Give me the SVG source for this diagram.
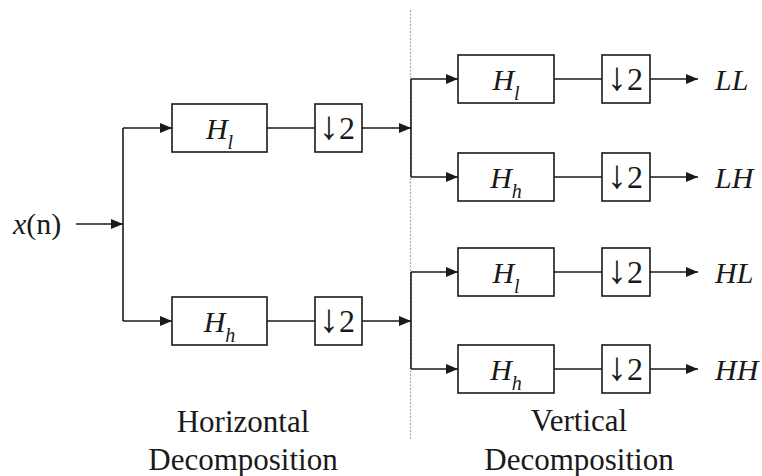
<svg xmlns="http://www.w3.org/2000/svg" width="762" height="476" viewBox="0 0 762 476">
<defs>
<style>
.ln{stroke:#1a1a1a;stroke-width:1.6;fill:none}
.ar{stroke:#1a1a1a;stroke-width:1.6;fill:none;marker-end:url(#ah)}
.bx{stroke:#1a1a1a;stroke-width:1.6;fill:#fff}
.t{font-family:"Liberation Serif","Times New Roman",serif;font-size:30px;fill:#1a1a1a}
.it{font-style:italic}
.sub{font-size:20px;font-style:italic}
.cap{font-family:"Liberation Serif","Times New Roman",serif;font-size:31px;fill:#1a1a1a;text-anchor:middle}
.ds{font-family:"Liberation Serif","Times New Roman",serif;font-size:32px;fill:#1a1a1a;text-anchor:middle}
.dn{font-size:40px}
</style>
<marker id="ah" markerWidth="12" markerHeight="10" refX="12" refY="5" orient="auto" markerUnits="userSpaceOnUse">
<path d="M0,0 L12,5 L0,10 Z" fill="#1a1a1a"/>
</marker>
</defs>
<rect width="762" height="476" fill="#fff"/>
<line x1="410.5" y1="10" x2="410.5" y2="440" stroke="#aaa" stroke-width="1.2" stroke-dasharray="2 1.5"/>
<g id="connectors">
<path class="ar" d="M76,224 H123"/>
<path class="ln" d="M123,128 V321"/>
<path class="ar" d="M123,128 H172"/>
<path class="ar" d="M123,321 H172"/>
<path class="ln" d="M267,128 H315"/>
<path class="ln" d="M267,321 H315"/>
<path class="ar" d="M362,128 H411"/>
<path class="ar" d="M362,321 H411"/>
<path class="ln" d="M411,79 V177"/>
<path class="ln" d="M411,272 V369"/>
<path class="ar" d="M411,79 H458"/>
<path class="ar" d="M411,177 H458"/>
<path class="ar" d="M411,272 H458"/>
<path class="ar" d="M411,369 H458"/>
<path class="ln" d="M554,79 H602"/>
<path class="ln" d="M554,177 H602"/>
<path class="ln" d="M554,272 H602"/>
<path class="ln" d="M554,369 H602"/>
<path class="ar" d="M650,79 H698"/>
<path class="ar" d="M650,177 H698"/>
<path class="ar" d="M650,272 H698"/>
<path class="ar" d="M650,369 H698"/>
</g>
<g id="input"><text class="t" x="13" y="234"><tspan class="it">x</tspan>(n)</text></g>
<g id="h1-hl"><rect class="bx" x="172" y="104" width="95" height="48"/><text class="t" x="219.5" y="139" text-anchor="middle"><tspan class="it">H</tspan><tspan class="sub" dy="10">l</tspan></text></g>
<g id="h1-d1"><rect class="bx" x="315" y="104" width="47" height="48"/><text class="ds" x="337" y="139"><tspan class="dn">↓</tspan>2</text></g>
<g id="h1-hh"><rect class="bx" x="172" y="297" width="95" height="48"/><text class="t" x="219.5" y="332" text-anchor="middle"><tspan class="it">H</tspan><tspan class="sub" dy="10">h</tspan></text></g>
<g id="h1-d2"><rect class="bx" x="315" y="297" width="47" height="48"/><text class="ds" x="337" y="332"><tspan class="dn">↓</tspan>2</text></g>
<g id="v-hl1"><rect class="bx" x="458" y="55" width="96" height="48"/><text class="t" x="506" y="90" text-anchor="middle"><tspan class="it">H</tspan><tspan class="sub" dy="10">l</tspan></text></g>
<g id="v-d1"><rect class="bx" x="602" y="55" width="48" height="48"/><text class="ds" x="625" y="90"><tspan class="dn">↓</tspan>2</text></g>
<g id="v-hh1"><rect class="bx" x="458" y="153" width="96" height="48"/><text class="t" x="506" y="188" text-anchor="middle"><tspan class="it">H</tspan><tspan class="sub" dy="10">h</tspan></text></g>
<g id="v-d2"><rect class="bx" x="602" y="153" width="48" height="48"/><text class="ds" x="625" y="188"><tspan class="dn">↓</tspan>2</text></g>
<g id="v-hl2"><rect class="bx" x="458" y="248" width="96" height="48"/><text class="t" x="506" y="283" text-anchor="middle"><tspan class="it">H</tspan><tspan class="sub" dy="10">l</tspan></text></g>
<g id="v-d3"><rect class="bx" x="602" y="248" width="48" height="48"/><text class="ds" x="625" y="283"><tspan class="dn">↓</tspan>2</text></g>
<g id="v-hh2"><rect class="bx" x="458" y="345" width="96" height="48"/><text class="t" x="506" y="380" text-anchor="middle"><tspan class="it">H</tspan><tspan class="sub" dy="10">h</tspan></text></g>
<g id="v-d4"><rect class="bx" x="602" y="345" width="48" height="48"/><text class="ds" x="625" y="380"><tspan class="dn">↓</tspan>2</text></g>
<g id="out-ll"><text class="t it" x="715" y="90">LL</text></g>
<g id="out-lh"><text class="t it" x="715" y="188">LH</text></g>
<g id="out-hl"><text class="t it" x="715" y="283">HL</text></g>
<g id="out-hh"><text class="t it" x="715" y="380">HH</text></g>
<g id="cap-h"><text class="cap" x="243" y="432">Horizontal</text><text class="cap" x="243" y="470">Decomposition</text></g>
<g id="cap-v"><text class="cap" x="579" y="431">Vertical</text><text class="cap" x="579" y="470">Decomposition</text></g>
</svg>
